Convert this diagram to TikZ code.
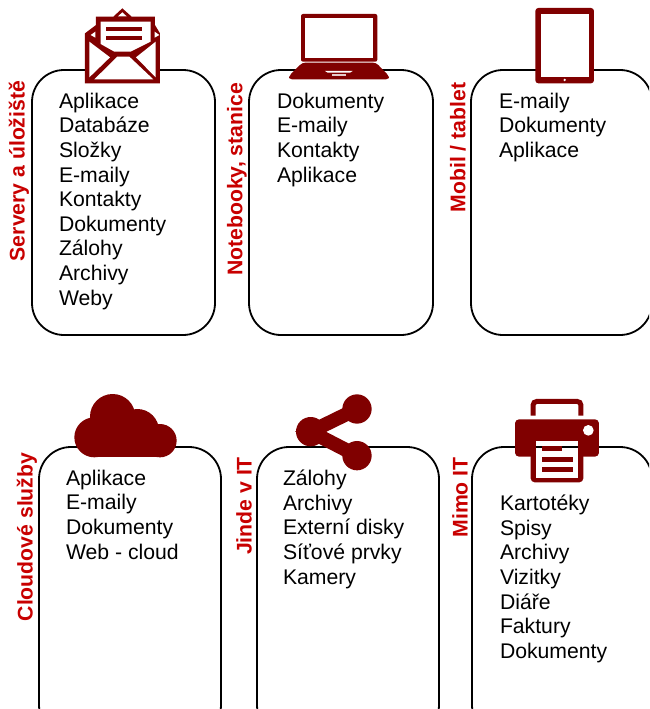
\documentclass[tikz,border=0pt]{standalone}
\usepackage{fontspec}
\setmainfont{Liberation Sans}
\definecolor{iconred}{HTML}{800000}
\definecolor{labelred}{HTML}{C80000}
\tikzset{
  cardbox/.style={draw=black,line width=1.8pt,fill=none,rounded corners=32pt,rectangle,anchor=north west,inner sep=0pt,outer sep=0pt},
  listtext/.style={anchor=north west,inner sep=0pt,outer sep=0pt,align=left,text=black,
    font=\fontsize{21.2}{24.6}\selectfont,execute at begin node={\rule{0pt}{16pt}}},
  sidelabel/.style={rotate=90,anchor=center,inner sep=0pt,text=labelred,font=\fontsize{21.2}{24}\selectfont\bfseries},
  icon/.style={fill=iconred,draw=none},
  hole/.style={fill=white,draw=none},
  zoomed/.style={x=0.3333pt,y=-0.3333pt}
}
\begin{document}
\begin{tikzpicture}[x=1pt,y=-1pt]
\useasboundingbox (0,0) rectangle (649,709);
\clip (0,0) rectangle (649,709);
% cards
\node[cardbox,minimum width=183pt,minimum height=265pt] (card1) at (32,70) {};
\node[cardbox,minimum width=184pt,minimum height=265pt] (card2) at (249,70) {};
\node[cardbox,minimum width=181pt,minimum height=265pt] (card3) at (471,70) {};
\node[cardbox,minimum width=182pt,minimum height=290pt] (card4) at (39,447) {};
\node[cardbox,minimum width=182pt,minimum height=290pt] (card5) at (257,447) {};
\node[cardbox,minimum width=180pt,minimum height=290pt] (card6) at (472,447) {};
% lists
\node[listtext] (list1) at (59,93) {Aplikace\\Databáze\\Složky\\E-maily\\Kontakty\\Dokumenty\\Zálohy\\Archivy\\Weby};
\node[listtext] (list2) at (277,93) {Dokumenty\\E-maily\\Kontakty\\Aplikace};
\node[listtext] (list3) at (499,93) {E-maily\\Dokumenty\\Aplikace};
\node[listtext] (list4) at (66,470) {Aplikace\\E-maily\\Dokumenty\\Web - cloud};
\node[listtext] (list5) at (283,470) {Zálohy\\Archivy\\Externí disky\\Síťové prvky\\Kamery};
\node[listtext] (list6) at (500,495) {Kartotéky\\Spisy\\Archivy\\Vizitky\\Diáře\\Faktury\\Dokumenty};
% side labels
\node[sidelabel] (lab1) at (19,171) {Servery a úložiště};
\node[sidelabel] (lab2) at (237,179.5) {Notebooky, stanice};
\node[sidelabel] (lab3) at (458,147.5) {Mobil / tablet};
\node[sidelabel] (lab4) at (27,537) {Cloudové služby};
\node[sidelabel] (lab5) at (244,506) {Jinde v IT};
\node[sidelabel] (lab6) at (460,497.5) {Mimo IT};
% envelope
\begin{scope}[shift={(60,0)},zoomed]
  \fill[icon] (75,100)--(108,75)--(108,50)--(160,50)--(187,25)--(215,50)--(285,50)--(285,75)--(300,100)--(300,250)--(75,250)--cycle;
  \fill[hole] (122,65)--(272,65)--(272,125)--(212,155)--(163,155)--(122,132)--cycle;
  \fill[hole] (88,125)--(150,172)--(88,232)--cycle;
  \fill[hole] (287,125)--(287,232)--(228,172)--cycle;
  \fill[hole] (103,238)--(172,170)--(208,170)--(280,238)--cycle;
  \fill[hole] (92,105)--(106,95)--(106,113)--cycle;
  \fill[hole] (284,95)--(284,113)--(298,105)--cycle;
  \fill[hole] (187,37)--(174,49)--(200,49)--cycle;
  \fill[icon] (137,80) rectangle (247,92);
  \fill[icon] (137,107) rectangle (247,120);
\end{scope}
% laptop
\begin{scope}[shift={(270,0)},zoomed]
  \fill[icon,rounded corners=2pt] (93,42) rectangle (322,185);
  \fill[hole] (106,54) rectangle (310,173);
  \fill[icon,rounded corners=3pt] (97,188)--(318,188)--(357,228)--(357,238)--(57,238)--(57,228)--cycle;
  \fill[hole] (165,213)--(248,213)--(240,218)--(173,218)--cycle;
  \fill[white!80!iconred] (187,223) rectangle (228,228);
\end{scope}
% tablet
\begin{scope}[shift={(500,0)},zoomed]
  \fill[icon,rounded corners=3pt] (106,24) rectangle (282,250);
  \fill[hole] (123,43) rectangle (266,231);
  \fill[hole] (194,240) circle[radius=4];
\end{scope}
% cloud
\begin{scope}[shift={(60,380)},zoomed]
  \fill[icon] (158,110) circle[radius=68];
  \fill[icon] (103,172) circle[radius=60];
  \fill[icon] (232,152) circle[radius=65];
  \fill[icon] (300,182) circle[radius=50];
  \fill[icon] (103,140) rectangle (300,232);
\end{scope}
% share
\begin{scope}[shift={(280,380)},zoomed]
  \fill[icon] (231,87) circle[radius=44];
  \fill[icon] (92,155) circle[radius=44];
  \fill[icon] (231,227) circle[radius=44];
  \draw[iconred,line width=14pt] (231,87)--(92,155)--(231,227);
\end{scope}
% printer
\begin{scope}[shift={(500,385)},zoomed]
  \draw[iconred,line width=5pt,rounded corners=4pt] (99,92)--(99,49)--(243,49)--(243,92);
  \fill[icon,rounded corners=4pt] (45,103) rectangle (297,215);
  \fill[hole] (265,136) circle[radius=16];
  \fill[icon,rounded corners=4pt] (92,200)--(92,292)--(250,292)--(250,200)--cycle;
  \fill[hole] (107,168) rectangle (235,278);
  \draw[black,line width=1.8pt] (107,187)--(235,187);
  \fill[icon] (125,183) rectangle (187,199);
  \fill[icon] (125,215) rectangle (218,231);
  \fill[icon] (125,247) rectangle (218,262);
\end{scope}
\end{tikzpicture}
\end{document}
